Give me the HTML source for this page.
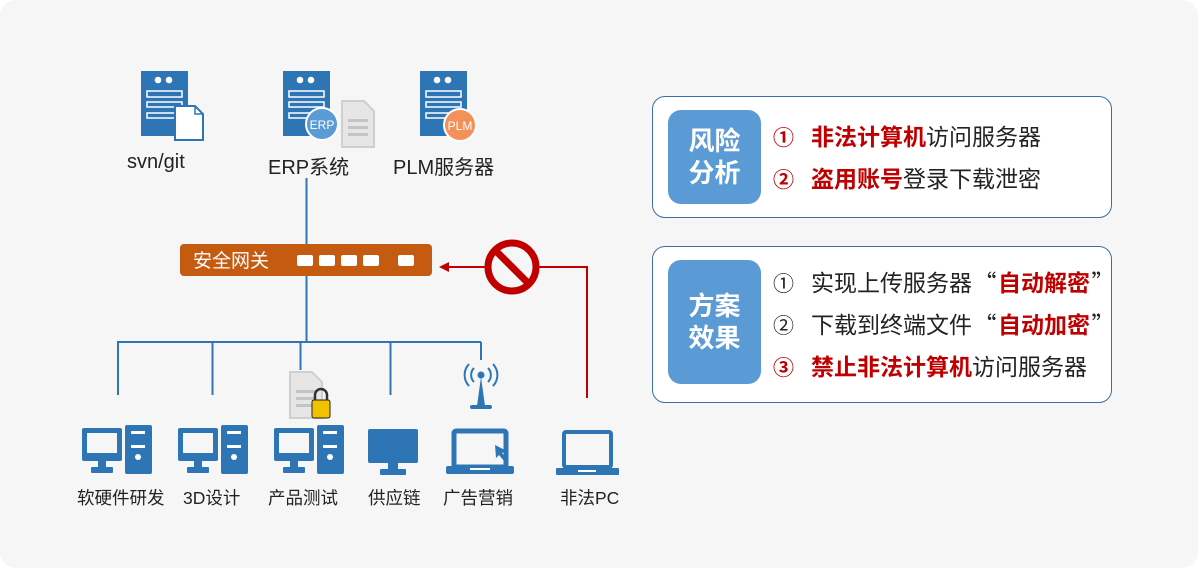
<!DOCTYPE html>
<html><head><meta charset="utf-8"><style>
html,body{margin:0;padding:0;background:#fff;}
body{width:1200px;height:570px;position:relative;overflow:hidden;font-family:"Liberation Sans","Noto Sans CJK SC",sans-serif;}
.bg{position:absolute;left:0;top:0;width:1198px;height:568px;background:#f6f6f6;border-radius:16px;}
.t{position:absolute;font-size:20px;color:#222;white-space:nowrap;}
.box{position:absolute;left:652px;width:460px;background:#fff;border:1.5px solid #3a6fa8;border-radius:13px;box-sizing:border-box;}
.blk{position:absolute;left:15px;width:93px;background:#5b9bd5;border-radius:13px;color:#fff;font-weight:bold;font-size:26px;line-height:32px;text-align:center;display:flex;align-items:center;justify-content:center;}
.it{position:absolute;left:120px;font-size:23px;color:#222;white-space:nowrap;}
.r{color:#c00000;font-weight:bold;}
.n{display:inline-block;width:38px;font-size:21px;}
.q{font-family:"Noto Sans CJK SC",sans-serif;display:inline-block;width:26px;text-align:center;}
</style></head><body>
<div class="bg"></div>
<svg width="1200" height="570" style="position:absolute;left:0;top:0">
<defs>
<g id="srv">
<rect x="0" y="0" width="47" height="65" fill="#2e75b6"/>
<circle cx="17" cy="9" r="3.3" fill="#fff"/><circle cx="28" cy="9" r="3.3" fill="#fff"/>
<rect x="6" y="20" width="35" height="6" fill="none" stroke="#fff" stroke-width="1.5"/>
<rect x="6" y="31" width="35" height="5" fill="none" stroke="#fff" stroke-width="1.5"/>
<rect x="6" y="42" width="35" height="5" fill="none" stroke="#fff" stroke-width="1.5"/>
</g>
<g id="desk">
<rect x="0" y="3" width="40" height="33" rx="2" fill="#2e75b6"/>
<rect x="5" y="8" width="30" height="20" fill="#f6f6f6"/>
<rect x="16" y="36" width="8" height="6" fill="#2e75b6"/>
<rect x="9" y="42" width="22" height="6" rx="1" fill="#2e75b6"/>
<rect x="43" y="0" width="27" height="49" rx="2" fill="#2e75b6"/>
<rect x="49" y="6" width="14" height="3" fill="#fff"/>
<rect x="49" y="20" width="14" height="3" fill="#fff"/>
<circle cx="56" cy="32" r="3" fill="#fff"/>
</g>
<g id="doc">
<path d="M0 0 H22 L32 10 V46 H0 Z" fill="#e6e6e6" stroke="#cfcfcf" stroke-width="2"/>
<rect x="6" y="18" width="20" height="3" fill="#c4c4c4"/><rect x="6" y="25" width="20" height="3" fill="#c4c4c4"/><rect x="6" y="32" width="20" height="3" fill="#c4c4c4"/>
</g>
</defs>
<use href="#srv" x="141" y="71"/>
<path d="M175 106 H195 L203 114 V140 H175 Z" fill="#fff" stroke="#2e75b6" stroke-width="2"/>
<path d="M195 106 V114 H203" fill="none" stroke="#2e75b6" stroke-width="1.5"/>
<use href="#srv" x="283" y="71"/>
<use href="#doc" x="342" y="101"/>
<circle cx="322" cy="124" r="16" fill="#5b9bd5" stroke="#fff" stroke-width="2"/>
<text x="322" y="129" font-size="12" fill="#fff" text-anchor="middle" font-family="Liberation Sans">ERP</text>
<use href="#srv" x="420" y="71"/>
<circle cx="460" cy="125" r="16" fill="#f4915a" stroke="#fff" stroke-width="2"/>
<text x="460" y="130" font-size="12" fill="#fff" text-anchor="middle" font-family="Liberation Sans">PLM</text>

<line x1="306.5" y1="178" x2="306.5" y2="342" stroke="#2e75b6" stroke-width="2"/>
<rect x="180" y="244" width="252" height="32" rx="4" fill="#c55a11"/>
<text x="193" y="267" font-size="19" fill="#fff" font-family="Liberation Sans,Noto Sans CJK SC">安全网关</text>
<g fill="#fff"><rect x="297" y="255" width="16" height="11" rx="2"/><rect x="319" y="255" width="16" height="11" rx="2"/><rect x="341" y="255" width="16" height="11" rx="2"/><rect x="363" y="255" width="16" height="11" rx="2"/><rect x="398" y="255" width="16" height="11" rx="2"/></g>

<path d="M118 395 V342 H481" fill="none" stroke="#2e75b6" stroke-width="2"/>
<g stroke="#2e75b6" stroke-width="2"><line x1="212.5" y1="342" x2="212.5" y2="395"/><line x1="300.5" y1="342" x2="300.5" y2="370"/><line x1="390.5" y1="342" x2="390.5" y2="395"/><line x1="481" y1="342" x2="481" y2="360"/></g>

<path d="M587 398 V267 H447" fill="none" stroke="#c00000" stroke-width="2"/>
<path d="M439 267 L449 262 L449 272 Z" fill="#c00000"/>
<circle cx="512" cy="267" r="24" fill="#f6f6f6" stroke="#c00000" stroke-width="7"/>
<line x1="496" y1="251" x2="528" y2="283" stroke="#c00000" stroke-width="7"/>

<use href="#desk" x="82" y="425"/>
<use href="#desk" x="178" y="425"/>
<use href="#desk" x="274" y="425"/>
<use href="#doc" x="290" y="372"/>
<rect x="312" y="400" width="18" height="18" rx="2" fill="#f2c200" stroke="#222" stroke-width="1"/>
<path d="M315 400 V395 A6 6 0 0 1 327 395 V400" fill="none" stroke="#333" stroke-width="2.5"/>
<rect x="368" y="429" width="50" height="34" rx="2" fill="#2e75b6"/>
<rect x="388" y="463" width="10" height="6" fill="#2e75b6"/>
<rect x="380" y="469" width="26" height="6" rx="1" fill="#2e75b6"/>
<circle cx="481" cy="375" r="3.5" fill="#2e75b6"/>
<path d="M481 377 L477 406 H485 Z" fill="#2e75b6"/>
<rect x="470" y="405" width="22" height="4" rx="2" fill="#2e75b6"/>
<g fill="none" stroke="#2e75b6" stroke-width="2"><path d="M474 368 A10 10 0 0 0 474 382"/><path d="M488 368 A10 10 0 0 1 488 382"/><path d="M469 364 A16 16 0 0 0 469 386"/><path d="M493 364 A16 16 0 0 1 493 386"/></g>
<rect x="454" y="431" width="52" height="36" rx="2" fill="none" stroke="#2e75b6" stroke-width="5"/>
<rect x="446" y="466" width="68" height="8" rx="2" fill="#2e75b6"/>
<rect x="470" y="468" width="20" height="2" fill="#fff"/>
<path d="M495 445 L507 451 L502 453 L507 459 L504 461 L499 455 L496 458 Z" fill="#2e75b6"/>
<rect x="564" y="432" width="47" height="35" rx="2" fill="none" stroke="#2e75b6" stroke-width="4"/>
<rect x="556" y="468" width="63" height="7" rx="1" fill="#2e75b6"/>
<rect x="578" y="470" width="18" height="2" fill="#fff"/>
</svg>
<div class="t" style="left:127px;top:151px">svn/git</div>
<div class="t" style="left:268px;top:151px">ERP系统</div>
<div class="t" style="left:393px;top:151px">PLM服务器</div>
<div class="t" style="left:77px;top:485px;font-size:17.5px">软硬件研发</div>
<div class="t" style="left:183px;top:485px;font-size:17.5px">3D设计</div>
<div class="t" style="left:268px;top:485px;font-size:17.5px">产品测试</div>
<div class="t" style="left:368px;top:485px;font-size:17.5px">供应链</div>
<div class="t" style="left:443px;top:485px;font-size:17.5px">广告营销</div>
<div class="t" style="left:560px;top:485px;font-size:17.5px">非法PC</div>

<div class="box" style="top:96px;height:122px">
<div class="blk" style="top:13px;height:94px">风险<br>分析</div>
<div class="it" style="top:21px"><span class="n r">①</span><span class="r">非法计算机</span>访问服务器</div>
<div class="it" style="top:63px"><span class="n r">②</span><span class="r">盗用账号</span>登录下载泄密</div>
</div>
<div class="box" style="top:246px;height:157px">
<div class="blk" style="top:13px;height:124px">方案<br>效果</div>
<div class="it" style="top:17px"><span class="n">①</span>实现上传服务器<span class="q">“</span><span class="r">自动解密</span><span class="q">”</span></div>
<div class="it" style="top:59px"><span class="n">②</span>下载到终端文件<span class="q">“</span><span class="r">自动加密</span><span class="q">”</span></div>
<div class="it" style="top:101px"><span class="n r">③</span><span class="r">禁止非法计算机</span>访问服务器</div>
</div>
</body></html>
